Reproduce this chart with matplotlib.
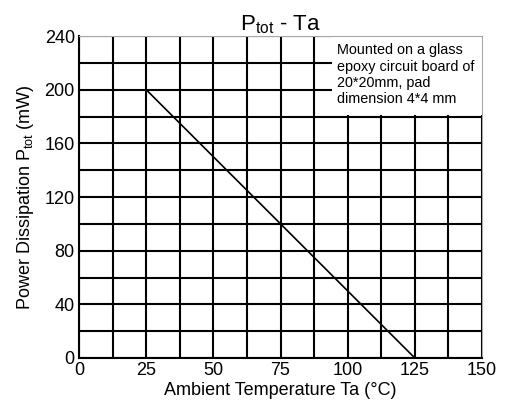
import numpy as np
import matplotlib
matplotlib.use("Agg")
import matplotlib.pyplot as plt
from matplotlib.patches import Rectangle

plt.rcParams['font.family'] = ['Liberation Sans', 'DejaVu Sans']

# derating curve
temp = [25, 125]
power = [200, 0]

xticks = [0, 25, 50, 75, 100, 125, 150]
yticks = [0, 40, 80, 120, 160, 200, 240]
note = "Mounted on a glass\nepoxy circuit board of\n20*20mm, pad\ndimension 4*4 mm"

fig = plt.figure(figsize=(5.10, 4.09), dpi=100)
ax = fig.add_axes([79/510, 1 - 358/409, 403/510, 322/409])

ax.set_xlim(0, 150)
ax.set_ylim(0, 240)
ax.set_xticks(xticks)
ax.set_yticks(yticks)
ax.set_xticks(np.arange(0, 151, 12.5), minor=True)
ax.set_yticks(np.arange(0, 241, 20), minor=True)
ax.grid(True, which='both', color='black', linewidth=1.5)
ax.tick_params(which='both', length=0, labelsize=13, pad=3)
ax.set_axisbelow(True)

for s in ['top', 'right']:
    ax.spines[s].set_color('#a8a8a8')
for s in ['left', 'bottom']:
    ax.spines[s].set_linewidth(1.5)

ax.plot(temp, power, color='black', linewidth=1.2, zorder=3)

# white note box covering the grid
ax.add_patch(Rectangle((94.2, 181), 56, 60, facecolor='white',
                       edgecolor='none', zorder=1))
ax.text(96.0, 234.5, note, ha='left', va='top', fontsize=10.4,
        linespacing=1.2, zorder=4)

ax.set_title(r'P$_{\mathregular{tot}}$ - Ta', fontsize=16, pad=2)
ax.set_xlabel('Ambient Temperature Ta (°C)', fontsize=13, labelpad=2)
ax.set_ylabel(r'Power Dissipation P$_{\mathregular{tot}}$ (mW)', fontsize=13, labelpad=6)

fig.savefig('out.png', dpi=100)
